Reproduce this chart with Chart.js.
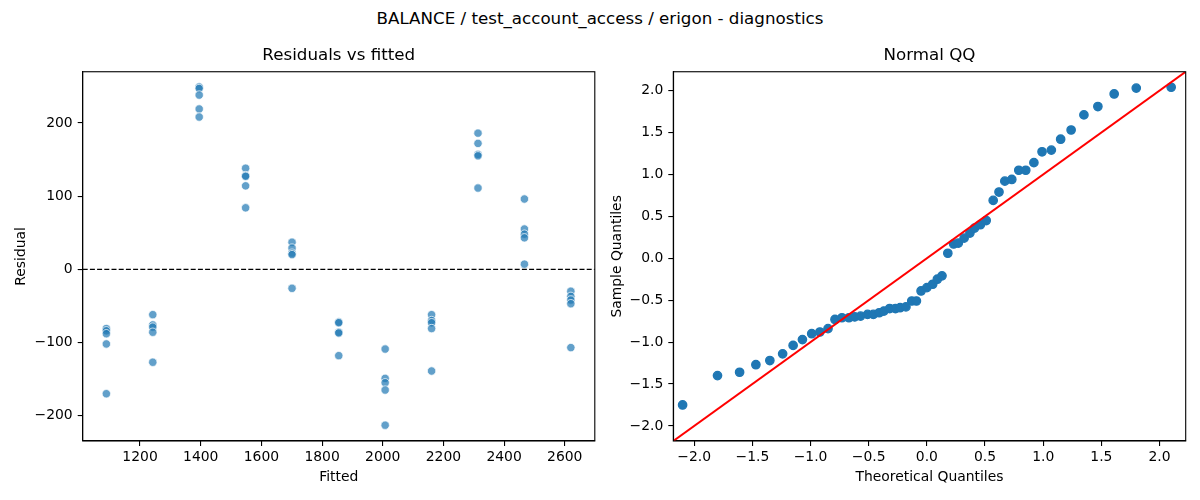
<!DOCTYPE html>
<html>
<head>
<meta charset="utf-8">
<script src="https://cdn.jsdelivr.net/npm/chart.js@4.4.1/dist/chart.umd.min.js"></script>
<style>
  body { margin: 0; background: #fff; }
  #wrap { position: relative; width: 1200px; height: 500px; }
  #suptitle {
    position: absolute; left: 0; top: 8px; width: 1200px; height: 20px;
    line-height: 20px; text-align: center; color: #000;
    font-family: 'DejaVu Sans', sans-serif; font-size: 16.7px;
  }
  canvas { position: absolute; top: 0; }
</style>
</head>
<body>
<div id="wrap">
  <div id="suptitle">BALANCE / test_account_access / erigon - diagnostics</div>
  <canvas id="residChart" width="600" height="500" style="left:0"></canvas>
  <canvas id="qqChart" width="600" height="500" style="left:600px"></canvas>
</div>
<script>
// fitted value levels (one per group) and residuals
const fittedLevels = [1089, 1242, 1395, 1548, 1701, 1855, 2008, 2161, 2314, 2467, 2620];
const residuals = [
  [-81, -84, -88, -102, -170],
  [-62, -76, -79, -86, -127],
  [249, 247, 238, 219, 208],
  [138, 128, 127, 114, 84],
  [37, 29, 22, 20, -26],
  [-72, -73, -86, -87, -118],
  [-109, -149, -155, -165, -213],
  [-62, -70, -73, -81, -139],
  [186, 172, 157, 155, 111],
  [96, 55, 48, 43, 7],
  [-30, -37, -42, -47, -107]
];
const fittedTicks = [1200, 1400, 1600, 1800, 2000, 2200, 2400, 2600];
const residTicks = [-200, -100, 0, 100, 200];
const fittedRange = [1011, 2699];
const residRange = [-234.6, 269.9];

// normal QQ: theoretical vs sample quantiles
const theoQuantiles = [-2.10, -1.80, -1.61, -1.47, -1.35, -1.24, -1.15, -1.07, -0.99, -0.92,
  -0.85, -0.79, -0.73, -0.67, -0.62, -0.57, -0.51, -0.46, -0.41, -0.37,
  -0.32, -0.27, -0.23, -0.18, -0.13, -0.09, -0.05, 0.00, 0.05, 0.09,
  0.13, 0.18, 0.23, 0.27, 0.32, 0.37, 0.41, 0.46, 0.51, 0.57,
  0.62, 0.67, 0.73, 0.79, 0.85, 0.92, 0.99, 1.07, 1.15, 1.24,
  1.35, 1.47, 1.61, 1.80, 2.10];
const sampleQuantiles = [-1.75, -1.40, -1.36, -1.27, -1.22, -1.14, -1.04, -0.97, -0.90, -0.88,
  -0.84, -0.73, -0.71, -0.71, -0.70, -0.69, -0.67, -0.67, -0.65, -0.63,
  -0.60, -0.60, -0.59, -0.58, -0.51, -0.51, -0.39, -0.35, -0.31, -0.25,
  -0.21, 0.06, 0.17, 0.18, 0.24, 0.30, 0.36, 0.40, 0.45, 0.69,
  0.79, 0.92, 0.94, 1.05, 1.05, 1.14, 1.27, 1.29, 1.42, 1.53,
  1.71, 1.81, 1.96, 2.03, 2.04];
const qqTicks = [-2.0, -1.5, -1.0, -0.5, 0.0, 0.5, 1.0, 1.5, 2.0];
const qqRange = [-2.18, 2.225];

const FONT = 'DejaVu Sans';
const TICK_SIZE = 13.9;
const TITLE_SIZE = 16.7;

function minus(s) {
  return s.replace('-', '\u2212');
}

// draws the full box around the plot area, like matplotlib spines
const frameBox = {
  id: 'frameBox',
  afterDraw(chart) {
    const a = chart.chartArea;
    const ctx = chart.ctx;
    ctx.save();
    ctx.strokeStyle = '#000';
    ctx.lineWidth = 1.1;
    ctx.strokeRect(a.left, a.top, a.right - a.left, a.bottom - a.top);
    ctx.restore();
  }
};

function axisOpts(range, ticks, fmt, label, isX, titlePad, size) {
  return {
    type: 'linear',
    position: isX ? 'bottom' : 'left',
    min: range[0],
    max: range[1],
    afterBuildTicks: function(scale) {
      scale.ticks = ticks.map(v => ({ value: v }));
    },
    afterFit: function(scale) {
      if (isX) scale.height = size;
      else scale.width = size;
    },
    ticks: {
      autoSkip: false,
      maxRotation: 0,
      padding: isX ? 3 : 5,
      color: '#000',
      font: { family: FONT, size: TICK_SIZE },
      callback: fmt
    },
    grid: {
      drawOnChartArea: false,
      drawTicks: true,
      tickLength: 5,
      color: '#000',
      lineWidth: 1.1
    },
    border: { display: true, color: '#000', width: 1.1 },
    title: {
      display: true,
      text: label,
      color: '#000',
      font: { family: FONT, size: TICK_SIZE },
      padding: isX ? { top: 0, bottom: titlePad } : { top: titlePad, bottom: 0 }
    }
  };
}

function titleOpts(text) {
  return {
    display: true,
    text: text,
    fullSize: false,
    color: '#000',
    font: { family: FONT, size: TITLE_SIZE, weight: 'normal', lineHeight: 1.2 },
    padding: { top: 46, bottom: 5.7 }
  };
}

document.addEventListener('DOMContentLoaded', function() {
  Chart.defaults.font.family = FONT;

  // Residuals vs fitted
  const residPoints = [];
  fittedLevels.forEach((f, i) => {
    residuals[i].forEach(r => residPoints.push({ x: f, y: r }));
  });

  new Chart(document.getElementById('residChart'), {
    type: 'scatter',
    data: {
      datasets: [
        {
          type: 'line',
          data: [{ x: fittedRange[0], y: 0 }, { x: fittedRange[1], y: 0 }],
          borderColor: '#000',
          borderWidth: 1.3,
          borderDash: [5, 2.2],
          pointRadius: 0,
          fill: false
        },
        {
          data: residPoints,
          backgroundColor: 'rgba(31,119,180,0.7)',
          borderColor: 'rgba(255,255,255,0.7)',
          borderWidth: 1,
          pointRadius: 4.2
        }
      ]
    },
    options: {
      responsive: false,
      devicePixelRatio: 1,
      animation: false,
      layout: { padding: { left: 0, right: 5, top: 0, bottom: 0 } },
      plugins: {
        legend: { display: false },
        tooltip: { enabled: false },
        title: titleOpts('Residuals vs fitted')
      },
      scales: {
        x: axisOpts(fittedRange, fittedTicks, v => minus(String(v)), 'Fitted', true, 14.7, 59),
        y: axisOpts(residRange, residTicks, v => minus(String(v)), 'Residual', false, 13.4, 82.7)
      }
    },
    plugins: [frameBox]
  });

  // Normal QQ
  const qqPoints = theoQuantiles.map((q, i) => ({ x: q, y: sampleQuantiles[i] }));

  new Chart(document.getElementById('qqChart'), {
    type: 'scatter',
    data: {
      datasets: [
        {
          type: 'line',
          data: [{ x: qqRange[0], y: qqRange[0] }, { x: qqRange[1], y: qqRange[1] }],
          borderColor: '#ff0000',
          borderWidth: 2,
          pointRadius: 0,
          fill: false
        },
        {
          data: qqPoints,
          backgroundColor: '#1f77b4',
          borderColor: '#1f77b4',
          borderWidth: 1.3,
          pointRadius: 4.2
        }
      ]
    },
    options: {
      responsive: false,
      devicePixelRatio: 1,
      animation: false,
      layout: { padding: { left: 0, right: 14.3, top: 0, bottom: 0 } },
      plugins: {
        legend: { display: false },
        tooltip: { enabled: false },
        title: titleOpts('Normal QQ')
      },
      scales: {
        x: axisOpts(qqRange, qqTicks, v => minus(v.toFixed(1)), 'Theoretical Quantiles', true, 14.7, 59),
        y: axisOpts(qqRange, qqTicks, v => minus(v.toFixed(1)), 'Sample Quantiles', false, 8.7, 73.3)
      }
    },
    plugins: [frameBox]
  });
});
</script>
</body>
</html>
